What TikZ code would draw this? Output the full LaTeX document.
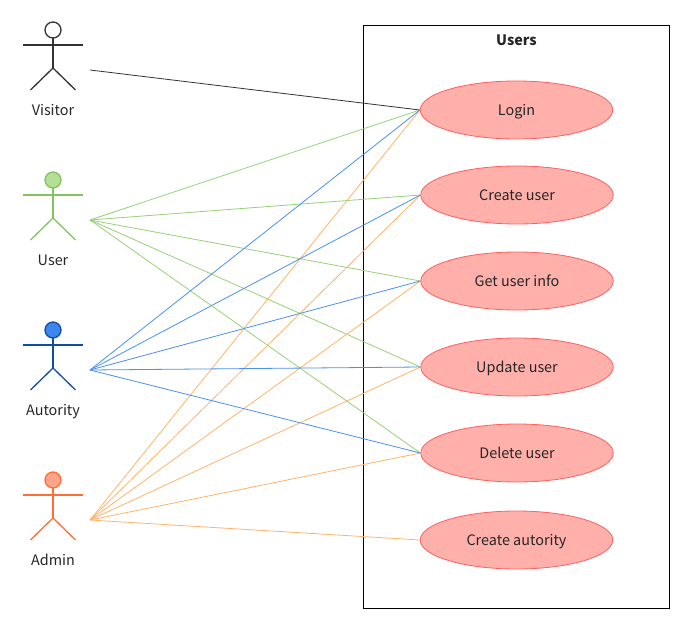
\documentclass[tikz,border=0pt]{standalone}
\usepackage{fontspec}
\setmainfont{Noto Sans CJK SC}
\usetikzlibrary{shapes.geometric}
\definecolor{usecasefill}{HTML}{FFB0AB}
\definecolor{usecaseline}{HTML}{FF5F5F}
\definecolor{visitorline}{HTML}{333333}
\definecolor{userline}{HTML}{82C45F}
\definecolor{userfill}{HTML}{B5DE97}
\definecolor{authline}{HTML}{0F4EA5}
\definecolor{authfill}{HTML}{3D86F0}
\definecolor{adminline}{HTML}{FF6E33}
\definecolor{adminfill}{HTML}{FFA488}
\definecolor{usersline}{HTML}{97D077}
\definecolor{authlink}{HTML}{4A90F0}
\definecolor{adminlink}{HTML}{FFB366}
\tikzset{
  strut/.style={text height=13pt, text depth=2pt},
  usecase/.style={ellipse, draw=usecaseline, fill=usecasefill, line width=0.8pt, minimum width=192.5pt, minimum height=58pt, inner sep=0pt, strut, text=black!85, font=\fontsize{14.4}{16}\selectfont},
  actorname/.style={strut, text=black!85, font=\fontsize{14.4}{16}\selectfont},
  link/.style={line width=0.8pt},
  pics/actor/.style 2 args={code={
    \draw[#1, line width=1.3pt, fill=#2] (53,30) circle (8);
    \draw[#1, line width=1.3pt] (23,45) -- (83,45);
    \draw[#1, line width=1.3pt] (53,38) -- (53,68);
    \draw[#1, line width=1.3pt] (30.5,90) -- (53,68) -- (75.5,90);
  }}
}
\begin{document}
\begin{tikzpicture}[x=1pt,y=-1pt]
\useasboundingbox (0,0) rectangle (684,628);

% system box
\node[draw=black, line width=0.8pt, minimum width=306pt, minimum height=583pt, inner sep=0pt] (box) at (516.5,316.5) {};
\node[strut, font=\fontsize{14.4}{16}\selectfont\bfseries, text=black!85] (boxname) at (516.5,40.5) {Users};

% actors
\pic at (0,0) {actor={visitorline}{white}};
\pic at (0,150) {actor={userline}{userfill}};
\pic at (0,300) {actor={authline}{authfill}};
\pic at (0,450) {actor={adminline}{adminfill}};
\node[actorname] (visitor) at (53,110) {Visitor};
\node[actorname] (user) at (53,260) {User};
\node[actorname] (autority) at (53,410) {Autority};
\node[actorname] (admin) at (53,560) {Admin};
\coordinate (visitorout) at (90,70);
\coordinate (userout) at (90,220);
\coordinate (autorityout) at (90,370);
\coordinate (adminout) at (90,520);

% use cases
\node[usecase] (login) at (516.5,110) {Login};
\node[usecase] (create) at (517,195) {Create user};
\node[usecase] (getinfo) at (517,281) {Get user info};
\node[usecase] (update) at (517,367) {Update user};
\node[usecase] (delete) at (517,453) {Delete user};
\node[usecase] (createauth) at (516.5,540) {Create autority};

% connectors
\draw[link, visitorline] (visitorout) -- (login.west);
\foreach \target in {login,create,getinfo,update,delete}
  \draw[link, usersline] (userout) -- (\target.west);
\foreach \target in {login,create,getinfo,update,delete,createauth}
  \draw[link, adminlink] (adminout) -- (\target.west);
\foreach \target in {login,create,getinfo,update,delete}
  \draw[link, authlink] (autorityout) -- (\target.west);
\end{tikzpicture}
\end{document}
